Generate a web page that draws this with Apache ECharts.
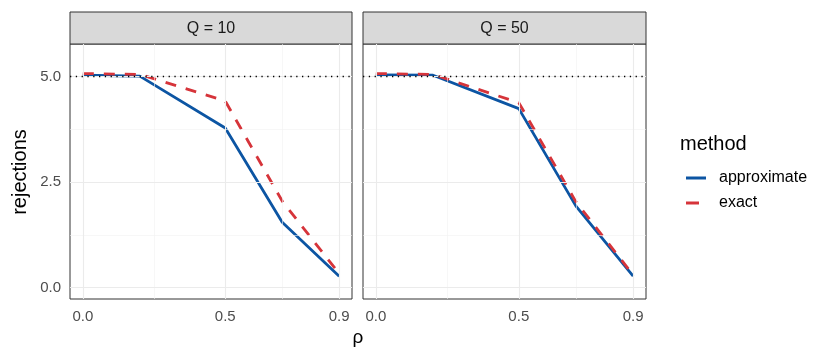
<!DOCTYPE html>
<html>
<head>
<meta charset="utf-8">
<script src="https://cdn.jsdelivr.net/npm/echarts@6/dist/echarts.min.js"></script>
<style>
  html, body { margin: 0; padding: 0; background: #fff; }
  #chart { width: 830px; height: 363px; }
</style>
</head>
<body>
<div id="chart"></div>
<script>
const rho = [0, 0.2, 0.5, 0.7, 0.9];
const panels = ["Q = 10", "Q = 50"];
const approxQ10 = [5.03, 5.01, 3.78, 1.55, 0.27];
const exactQ10 = [5.07, 5.05, 4.42, 2.05, 0.33];
const approxQ50 = [5.04, 5.03, 4.24, 1.93, 0.27];
const exactQ50 = [5.07, 5.05, 4.38, 2.03, 0.3];
const xTicks = [0, 0.5, 0.9];
const xMinor = [0.25, 0.7];
const yTicks = [0, 2.5, 5];
const yMinor = [1.25, 3.75];
const refLine = 5;

const blue = "#0c55a3";
const red = "#d6343a";
const font = "Liberation Sans, Arial, sans-serif";

const grids = [
  { left: 70, top: 44, width: 282, height: 255 },
  { left: 363, top: 44, width: 283, height: 255 },
];

function pairs(ys) {
  return rho.map((x, i) => [x, ys[i]]);
}

// panel gridlines (major + minor), drawn under the data
function gridLines(idx) {
  const major = { color: "#ebebeb", width: 1.1, type: "solid" };
  const minor = { color: "#f2f2f2", width: 0.6, type: "solid" };
  const d = [];
  xMinor.forEach((v) => d.push({ xAxis: v, lineStyle: minor }));
  yMinor.forEach((v) => d.push({ yAxis: v, lineStyle: minor }));
  xTicks.forEach((v) => d.push({ xAxis: v, lineStyle: major }));
  yTicks.forEach((v) => d.push({ yAxis: v, lineStyle: major }));
  return {
    name: "grid" + idx,
    type: "line",
    xAxisIndex: idx,
    yAxisIndex: idx,
    data: [],
    z: 1,
    silent: true,
    markLine: { symbol: "none", silent: true, label: { show: false }, data: d },
  };
}

function lineSeries(name, idx, ys, color, dashed) {
  return {
    name: name,
    type: "line",
    xAxisIndex: idx,
    yAxisIndex: idx,
    data: pairs(ys),
    showSymbol: false,
    z: dashed ? 4 : 3,
    lineStyle: { color: color, width: 2.8, type: dashed ? [11, 10] : "solid" },
    itemStyle: { color: color },
  };
}

function refSeries(idx) {
  return {
    name: "ref" + idx,
    type: "line",
    xAxisIndex: idx,
    yAxisIndex: idx,
    data: [],
    z: 5,
    markLine: {
      symbol: "none",
      silent: true,
      label: { show: false },
      lineStyle: { color: "#000", width: 1.3, type: [1.3, 4.5] },
      data: [{ yAxis: refLine }],
    },
  };
}

// one legend block per key so the dashed key can be shorter
function legendKey(name, top, width) {
  return {
    data: [{ name: name, icon: "rect", lineStyle: { type: "solid" } }],
    orient: "vertical",
    left: 681,
    top: top,
    itemWidth: width,
    itemHeight: 3,
    itemStyle: { borderWidth: 0 },
    textStyle: { fontSize: 16, color: "#000", fontFamily: font, padding: [0, 0, 0, 8 + 20 - width] },
  };
}

const xAxes = grids.map((g, i) => ({
  type: "value",
  gridIndex: i,
  min: -0.045,
  max: 0.945,
  axisLine: { show: false },
  splitLine: { show: false },
  axisTick: { show: true, customValues: xTicks, length: 4, lineStyle: { color: "#333" } },
  axisLabel: {
    customValues: xTicks,
    formatter: (v) => v.toFixed(1),
    color: "#4d4d4d",
    fontSize: 15,
    fontFamily: font,
    margin: 10,
  },
}));

const yAxes = grids.map((g, i) => ({
  type: "value",
  gridIndex: i,
  min: -0.27,
  max: 5.77,
  axisLine: { show: false },
  splitLine: { show: false },
  axisTick: { show: i === 0, customValues: yTicks, length: 4, lineStyle: { color: "#333" } },
  axisLabel: {
    show: i === 0,
    customValues: yTicks,
    formatter: (v) => v.toFixed(1),
    color: "#4d4d4d",
    fontSize: 15,
    fontFamily: font,
    margin: 9,
  },
}));

const strips = [];
grids.forEach((g, i) => {
  strips.push({
    type: "rect",
    shape: { x: g.left, y: 12, width: g.width, height: 32 },
    style: { fill: "#d9d9d9", stroke: "#333", lineWidth: 1 },
  });
  strips.push({
    type: "text",
    x: g.left + g.width / 2,
    y: 29,
    style: {
      text: panels[i],
      fill: "#1a1a1a",
      font: "16px " + font,
      textAlign: "center",
      textVerticalAlign: "middle",
    },
  });
});

const option = {
  animation: false,
  backgroundColor: "#fff",
  grid: grids.map((g) => ({ ...g, show: true, borderColor: "#333", borderWidth: 1, backgroundColor: "#fff" })),
  xAxis: xAxes,
  yAxis: yAxes,
  legend: [legendKey("approximate", 165, 20), legendKey("exact", 190, 13)],
  graphic: strips.concat([
    {
      type: "text",
      x: 20,
      y: 172,
      rotation: Math.PI / 2,
      style: { text: "rejections", fill: "#000", font: "20px " + font, textAlign: "center", textVerticalAlign: "middle" },
    },
    {
      type: "text",
      x: 358,
      y: 338,
      style: { text: "ρ", fill: "#000", font: "19px " + font, textAlign: "center", textVerticalAlign: "middle" },
    },
    {
      type: "text",
      x: 680,
      y: 144,
      style: { text: "method", fill: "#000", font: "20px " + font, textAlign: "left", textVerticalAlign: "middle" },
    },
  ]),
  series: [
    gridLines(0),
    gridLines(1),
    lineSeries("approximate", 0, approxQ10, blue, false),
    lineSeries("exact", 0, exactQ10, red, true),
    lineSeries("approximate", 1, approxQ50, blue, false),
    lineSeries("exact", 1, exactQ50, red, true),
    refSeries(0),
    refSeries(1),
  ],
};

const chart = echarts.init(document.getElementById("chart"));
chart.setOption(option);
</script>
</body>
</html>
